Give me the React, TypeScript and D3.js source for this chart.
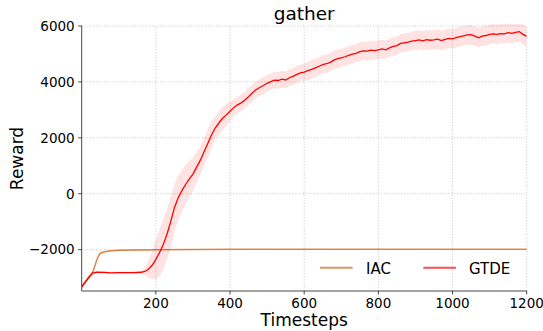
import React from "react";
import * as d3 from "d3";

const W = 543;
const H = 331;
const M = { left: 81.7, right: 16.3, top: 26, bottom: 40 };

const title = "gather";
const xLabel = "Timesteps";
const yLabel = "Reward";
const xTicks = [200, 400, 600, 800, 1000, 1200];
const yTicks = [-2000, 0, 2000, 4000, 6000];
const seriesNames = ["IAC", "GTDE"];
const seriesColors = ["#d2691e", "#ff0000"];

const gtdeSteps = [
  0, 10, 20, 30, 40, 60, 80, 100, 120, 140, 160, 170, 180, 190, 200, 210, 220, 230, 240, 250,
  260, 270, 280, 290, 300, 310, 320, 330, 340, 350, 360, 370, 380, 390, 400, 410, 420, 430, 440, 450,
  460, 470, 480, 490, 500, 510, 520, 530, 540, 550, 560, 570, 580, 590, 600, 610, 620, 630, 640, 650,
  660, 670, 680, 690, 700, 710, 720, 730, 740, 750, 760, 770, 780, 790, 800, 810, 820, 830, 840, 850,
  860, 870, 880, 890, 900, 910, 920, 930, 940, 950, 960, 970, 980, 990, 1000, 1010, 1020, 1030, 1040, 1050,
  1060, 1070, 1080, 1090, 1100, 1110, 1120, 1130, 1140, 1150, 1160, 1170, 1180, 1190, 1200,
];
const gtdeMean = [
  -3330, -3150, -2980, -2840, -2810, -2815, -2830, -2825, -2820, -2820, -2810, -2780, -2700, -2560, -2350, -2100, -1820, -1450, -1000, -500,
  -150, 100, 330, 520, 700, 950, 1200, 1500, 1800, 2100, 2350, 2530, 2700, 2820, 2950, 3080, 3180, 3250, 3350, 3470,
  3600, 3720, 3800, 3870, 3950, 4010, 4060, 4050, 4100, 4070, 4150, 4200, 4270, 4320, 4350, 4400, 4450, 4500, 4560, 4620,
  4650, 4700, 4780, 4830, 4860, 4900, 4950, 4990, 5020, 5080, 5110, 5100, 5140, 5120, 5150, 5180, 5150, 5220, 5270, 5300,
  5380, 5400, 5420, 5460, 5480, 5500, 5470, 5510, 5490, 5500, 5530, 5480, 5520, 5560, 5540, 5580, 5620, 5650, 5680, 5690,
  5640, 5580, 5640, 5660, 5700, 5720, 5700, 5730, 5720, 5760, 5740, 5770, 5800, 5700, 5630,
];
const gtdeStd = [
  50, 50, 50, 50, 40, 40, 40, 40, 40, 40, 50, 120, 300, 500, 700, 850, 900, 900, 900, 850,
  800, 750, 700, 650, 600, 550, 500, 500, 500, 500, 400, 400, 400, 400, 350, 300, 300, 300, 300, 300,
  300, 300, 300, 300, 300, 300, 300, 300, 300, 300, 300, 300, 300, 300, 300, 330, 330, 330, 330, 330,
  330, 330, 330, 330, 330, 330, 330, 330, 330, 330, 330, 330, 330, 330, 330, 330, 330, 330, 330, 330,
  330, 330, 330, 330, 350, 350, 350, 350, 350, 350, 350, 350, 350, 350, 350, 350, 350, 350, 350, 350,
  350, 350, 350, 350, 350, 350, 350, 350, 350, 350, 350, 350, 350, 350, 350,
];

const iacSteps = [0, 10, 20, 30, 35, 40, 45, 50, 60, 80, 100, 150, 200, 300, 400, 600, 800, 1000, 1200];
const iacMean = [-3330, -3150, -2980, -2800, -2600, -2400, -2230, -2130, -2080, -2040, -2025, -2010, -2000, -1995, -1990, -1990, -1990, -1990, -1990];
const iacStd = [60, 60, 60, 60, 60, 60, 60, 50, 40, 30, 30, 30, 25, 20, 15, 15, 15, 15, 15];

type Pt = { x: number; m: number; s: number };

export default function App() {
  const x = d3.scaleLinear().domain([0, 1200]).range([M.left, W - M.right]);
  const y = d3.scaleLinear().domain([-3480, 6000]).range([H - M.bottom, M.top]);

  const gtde: Pt[] = gtdeSteps.map((v, i) => ({ x: v, m: gtdeMean[i], s: gtdeStd[i] }));
  const iac: Pt[] = iacSteps.map((v, i) => ({ x: v, m: iacMean[i], s: iacStd[i] }));

  const line = d3.line<Pt>().x((d) => x(d.x)).y((d) => y(d.m));
  const area = d3
    .area<Pt>()
    .x((d) => x(d.x))
    .y0((d) => y(d.m - d.s))
    .y1((d) => y(d.m + d.s));

  const x0 = M.left;
  const x1 = W - M.right;
  const y0 = H - M.bottom;
  const y1 = M.top;
  const font = "DejaVu Sans, sans-serif";

  return (
    <svg
      width={W}
      height={H}
      style={{ position: "absolute", left: 0, top: 0, background: "#fff" }}
      fontFamily={font}
    >
      <defs>
        <clipPath id="plotclip">
          <rect x={x0} y={y1 - 2} width={x1 - x0} height={y0 - y1 + 2} />
        </clipPath>
      </defs>
      <g stroke="#bdbdbd" strokeWidth={0.8} strokeDasharray="1.1,1.7">
        {xTicks.map((t) => (
          <line key={"gx" + t} x1={x(t)} x2={x(t)} y1={y0} y2={y1} />
        ))}
        {yTicks.map((t) => (
          <line key={"gy" + t} x1={x0} x2={x1} y1={y(t)} y2={y(t)} />
        ))}
      </g>
      <g clipPath="url(#plotclip)">
        <path d={area(iac) || ""} fill={seriesColors[0]} fillOpacity={0.25} />
        <path d={line(iac) || ""} fill="none" stroke={seriesColors[0]} strokeOpacity={0.75} strokeWidth={1.5} />
        <path d={area(gtde) || ""} fill={seriesColors[1]} fillOpacity={0.11} />
        <path d={line(gtde) || ""} fill="none" stroke={seriesColors[1]} strokeWidth={1.3} />
      </g>
      <g stroke="#333" strokeWidth={0.9}>
        <line x1={x0} x2={x0} y1={y1} y2={y0} />
        <line x1={x0} x2={x1} y1={y0} y2={y0} />
      </g>
      {yTicks.map((t) => (
        <g key={"yt" + t}>
          <line x1={x0 - 3.5} x2={x0} y1={y(t)} y2={y(t)} stroke="#333" strokeWidth={0.9} />
          <text x={x0 - 7} y={y(t)} dy="0.36em" textAnchor="end" fontSize={13.5} fill="#000">
            {t < 0 ? "\u2212" + Math.abs(t) : String(t)}
          </text>
        </g>
      ))}
      {xTicks.map((t) => (
        <g key={"xt" + t}>
          <line x1={x(t)} x2={x(t)} y1={y0} y2={y0 + 3.5} stroke="#333" strokeWidth={0.9} />
          <text x={x(t)} y={307.7} textAnchor="middle" fontSize={13.5} fill="#000">
            {String(t)}
          </text>
        </g>
      ))}
      <text x={(x0 + x1) / 2} y={20} textAnchor="middle" fontSize={18.5} fill="#000">
        {title}
      </text>
      <text x={(x0 + x1) / 2} y={326} textAnchor="middle" fontSize={17} fill="#000">
        {xLabel}
      </text>
      <text
        transform={`translate(23,${(y0 + y1) / 2}) rotate(-90)`}
        textAnchor="middle"
        fontSize={17}
        fill="#000"
      >
        {yLabel}
      </text>
      <g>
        <line x1={320} x2={352.7} y1={267.7} y2={267.7} stroke={seriesColors[0]} strokeOpacity={0.7} strokeWidth={2} />
        <text x={366} y={274} fontSize={15} fill="#000">
          {seriesNames[0]}
        </text>
        <line x1={423.3} x2={456} y1={267.7} y2={267.7} stroke={seriesColors[1]} strokeOpacity={0.7} strokeWidth={2} />
        <text x={469} y={274} fontSize={15} fill="#000">
          {seriesNames[1]}
        </text>
      </g>
    </svg>
  );
}
